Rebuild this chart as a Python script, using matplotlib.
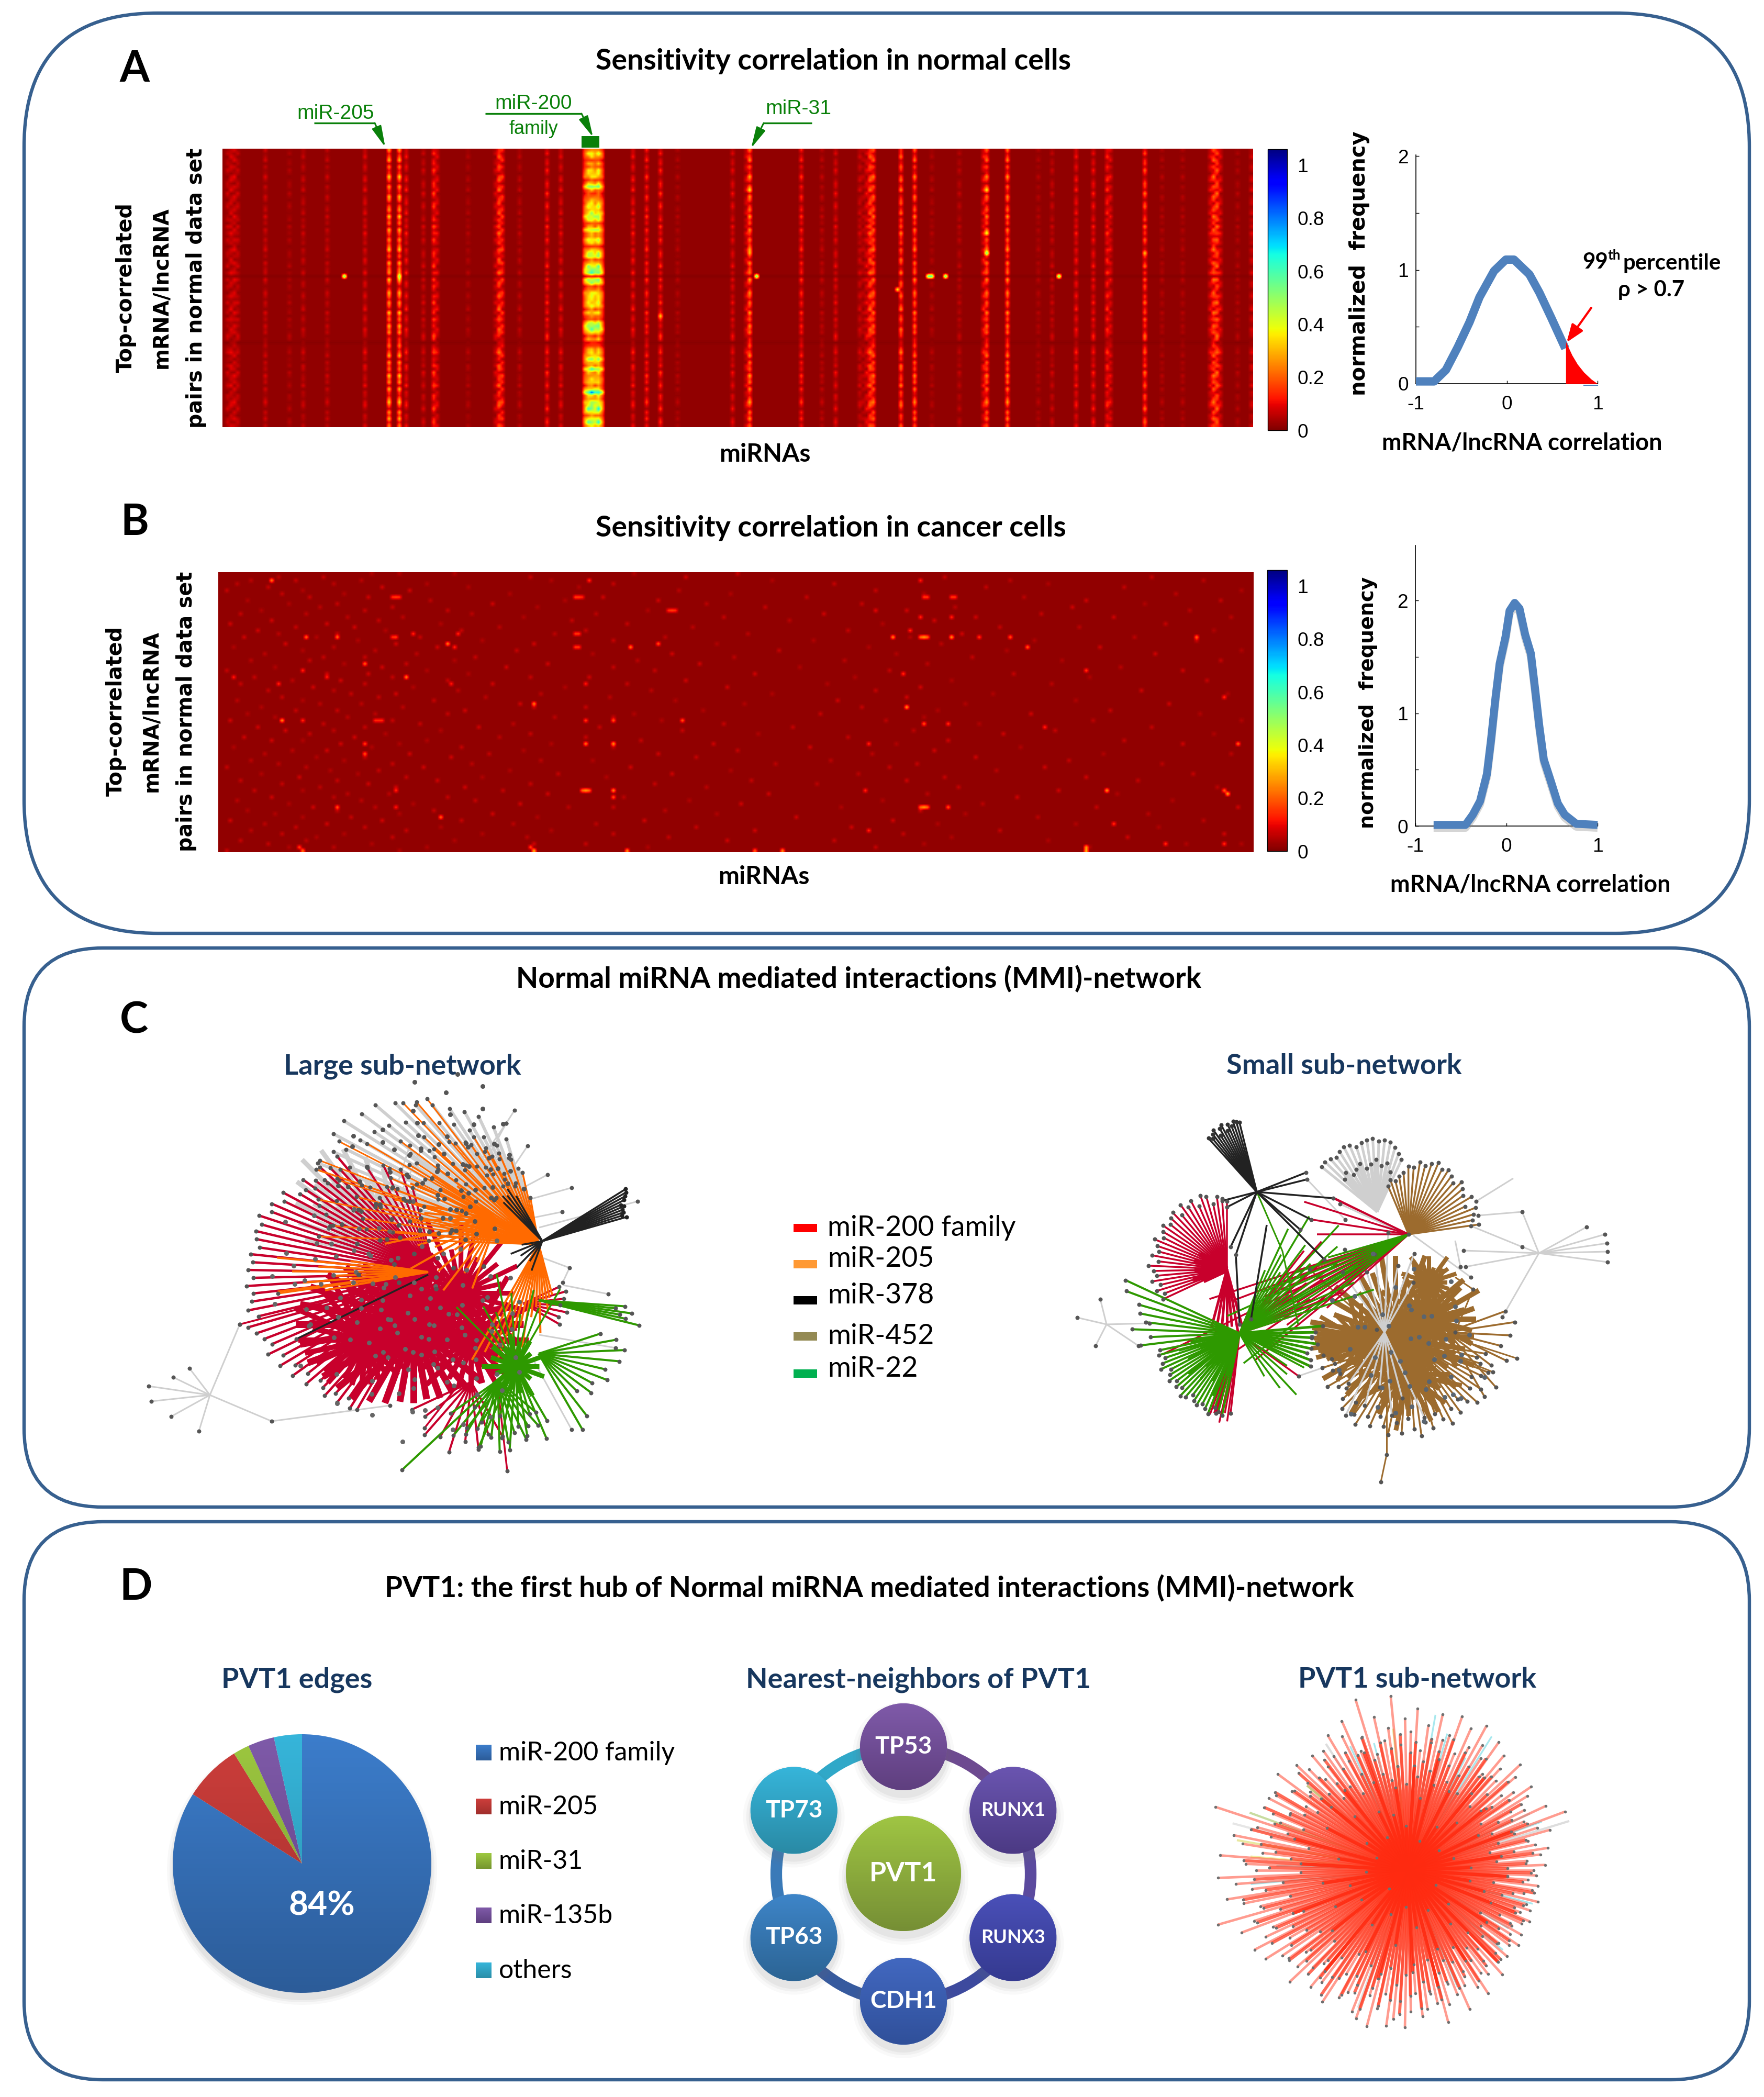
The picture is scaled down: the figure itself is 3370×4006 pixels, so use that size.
import numpy as np
import matplotlib
matplotlib.use("Agg")
import matplotlib.pyplot as plt
import matplotlib.patheffects as pe
from matplotlib.collections import LineCollection
from matplotlib.colors import to_rgb
from matplotlib.patches import FancyBboxPatch, Circle, Ellipse, Arc, Rectangle

plt.rcParams['font.family'] = ['Lato', 'DejaVu Sans']

W, H = 3370, 4006

# heatmap A: columns holding a visible stripe, and their typical level
A_COLS = [1, 2, 3, 4, 12, 19, 23, 30, 41, 48, 51, 53, 58, 61, 62, 71, 79, 80, 81, 86, 94, 98,
          119, 123, 127, 132, 148, 152, 153, 168, 174, 178, 185, 186, 187, 188, 189, 197, 201,
          206, 214, 221, 222, 228, 237, 241, 248, 253, 257, 258, 268, 273, 279, 287, 288, 289,
          290, 295, 299]
A_LEVELS = [.07, .09, .09, .07, .08, .05, .07, .07, .10, .30, .30, .12, .08, .16, .10, .05, .08, .20, .15,
            .06, .13, .10, .12, .14, .14, .05, .10, .10, .25, .14, .06, .10, .08, .06, .10, .20, .20,
            .22, .22, .05, .06, .12, .22, .24, .05, .07, .12, .12, .14, .10, .20, .05, .05, .10, .20,
            .20, .10, .05, .08]
A_PATTERN_1 = [7, 3, 5, 8, 2, 6, 3, 4, 9, 5, 2, 7, 4, 3, 8, 6, 2, 5, 7, 3, 9, 4, 6, 2, 8, 5, 3, 7, 4, 6, 9, 3, 5, 2,
               8, 4, 6, 7, 3, 9, 5, 2, 4, 8, 6, 3, 7, 5, 2, 9, 4, 6, 3, 8, 5, 7, 2, 4, 9, 6, 3, 5, 8, 2, 7, 4, 6, 3,
               9, 5, 7, 2, 8, 4, 3, 6, 9, 5, 2, 7, 4, 8, 3, 6]
A_PATTERN_2 = [4, 7, 2, 5, 6, 3, 8, 5, 2, 4, 7, 6, 3, 9, 5, 2, 6, 8, 4, 3, 5, 7, 2, 9, 4, 6, 3, 8, 5, 2, 4, 7, 6, 3,
               5, 9, 2, 6, 4, 8, 3, 7, 5, 2, 6, 4, 9, 3, 5, 7, 2, 8, 4, 6, 3, 5, 9, 7, 2, 4, 6, 8, 3, 5, 4, 7, 2, 9,
               6, 3, 5, 8, 4, 2, 7, 6, 3, 5, 9, 4, 2, 6, 8, 5]
A_PATTERN_3 = [5, 5, 8, 3, 4, 7, 5, 2, 6, 8, 3, 5, 9, 2, 4, 6, 7, 3, 5, 8, 2, 6, 4, 7, 3, 9, 5, 4, 6, 2, 7, 5, 3, 8,
               6, 2, 4, 9, 5, 3, 7, 6, 2, 5, 8, 4, 3, 6, 9, 2, 5, 7, 4, 3, 8, 6, 5, 2, 7, 3, 6, 9, 4, 5, 2, 8, 7, 3,
               5, 6, 4, 9, 2, 6, 5, 3, 7, 8, 4, 2, 6, 5, 3, 7]
A_BAND_COLS = [105, 106, 107, 108, 109, 110]
A_BAND_SHADE = [.6, .9, 1, .85, 1, .6]
A_BAND_ROWS = [.30, .45, .35, .20, .35, .25, .40, .45, .40, .20, .40, .60, .30, .20, .25, .35, .40, .45, .40, .50, .55,
               .45, .25, .30, .55, .30, .35, .45, .40, .20, .35, .50, .55, .25, .35, .55, .65, .60, .30, .55, .55, .20,
               .30, .45, .40, .45, .40, .45, .25, .40, .30, .20, .55, .60, .60, .40, .20, .35, .30, .20, .35, .35, .40,
               .60, .40, .30, .65, .35, .30, .40, .40, .25, .45, .90, .40, .35, .50, .50, .65, .50, .30, .45, .65, .40]
A_DARK_ROWS = [38, 58]
A_SPOT_ROWS = [38, 38, 38, 38, 38, 38, 38, 31, 31, 31, 12, 12, 25, 42, 50]
A_SPOT_COLS = [35, 155, 51, 205, 206, 210, 243, 222, 153, 268, 222, 153, 222, 196, 127]
A_SPOT_VALS = [.62, .62, .55, .62, .62, .62, .62, .60, .32, .34, .40, .38, .44, .38, .35]

# heatmap B: the brighter cells
B_ROWS = [2, 7, 7, 7, 7, 7, 7, 2, 11, 11, 11, 19, 19, 19, 19, 18, 18, 18, 18, 21, 22, 22, 21, 22, 22, 27, 29, 31, 31, 31, 33,
          33, 33, 39, 44, 44, 44, 44, 44, 44, 44, 44, 51, 51, 51, 54, 65, 65, 65, 65, 65, 67, 70, 70, 73, 82, 82, 83, 83, 83,
          2, 7, 7, 7, 7, 13, 13, 11, 17, 19, 19, 19, 19, 19, 19, 19, 19, 22, 29, 30, 37, 40, 45, 45, 46, 51, 51, 65, 65, 65, 66,
          70, 70, 70, 70, 77, 75, 82, 81, 83, 81, 83, 83]
B_COLS = [15, 50, 51, 52, 103, 104, 105, 107, 130, 131, 132, 25, 34, 50, 51, 56, 69, 103, 104, 66, 68, 119, 127, 103, 104, 42, 24, 4, 31,
          54, 17, 67, 106, 91, 18, 24, 45, 46, 47, 106, 114, 134, 106, 114, 42, 42, 51, 105, 106, 107, 114, 114, 34, 51, 64, 23, 90, 91, 24, 118,
          203, 204, 205, 212, 213, 203, 212, 190, 200, 195, 203, 204, 205, 212, 220, 229, 283, 234, 251, 198, 291, 199, 204, 211, 239, 188, 295,
          187, 257, 291, 292, 203, 204, 205, 211, 188, 259, 251, 291, 251, 274, 163, 155]
B_VALS = [.25, .15, .17, .15, .17, .17, .14, .16, .15, .17, .15, .22, .22, .15, .17, .15, .15, .16, .16, .25, .15, .24, .20, .16, .16, .22,
          .15, .14, .14, .25, .15, .14, .14, .25, .26, .15, .14, .14, .14, .17, .20, .20, .24, .28, .18, .20, .15, .22, .28, .22, .26, .20,
          .20, .14, .22, .18, .18, .30, .22, .25, .14, .16, .16, .16, .16, .15, .15, .10, .15, .26, .22, .28, .22, .28, .17, .20, .22, .22,
          .17, .16, .16, .28, .20, .16, .15, .15, .22, .15, .28, .22, .30, .22, .28, .22, .20, .15, .16, .28, .16, .30, .16, .25, .20]
# heatmap B: the faint cells, one list of columns per row
B_FAINT = [[44, 52, 68, 120, 150], [17, 30, 90, 135, 210, 270], [9, 22, 41, 96, 160, 229, 285], [5, 33, 60, 114, 178, 240],
           [14, 47, 72, 104, 222, 262], [2, 24, 55, 133, 190, 296], [18, 36, 84, 148, 204, 277], [26, 43, 111, 170, 233],
           [8, 61, 100, 127, 251, 290], [20, 34, 79, 141, 186, 268], [29, 50, 92, 158, 213, 247], [12, 42, 66, 124, 199, 281],
           [6, 25, 73, 109, 175, 238], [37, 53, 88, 146, 219, 259, 293], [15, 46, 102, 165, 207], [3, 31, 64, 118, 192, 274],
           [22, 39, 81, 137, 226, 249], [11, 48, 70, 106, 182, 288], [17, 34, 97, 153, 215], [7, 28, 58, 129, 200, 265],
           [40, 76, 114, 172, 236, 283], [19, 51, 91, 144, 209], [4, 33, 63, 103, 188, 255], [24, 45, 86, 162, 228, 296],
           [13, 57, 108, 131, 196, 271], [30, 42, 74, 149, 218], [9, 26, 68, 121, 181, 244, 290], [36, 54, 95, 139, 205],
           [16, 47, 83, 114, 168, 261], [2, 24, 60, 126, 194, 279], [31, 43, 72, 155, 230], [10, 50, 90, 107, 184, 252],
           [21, 35, 66, 135, 212, 286], [6, 42, 79, 118, 176, 241], [27, 56, 100, 147, 203], [14, 33, 69, 125, 190, 267],
           [38, 51, 93, 160, 224, 292], [18, 46, 77, 113, 199], [5, 24, 62, 132, 179, 248], [29, 41, 87, 152, 216, 275],
           [12, 53, 91, 106, 186], [22, 34, 71, 140, 208, 258], [8, 45, 66, 120, 174, 235, 284], [16, 37, 97, 114, 204],
           [3, 24, 50, 128, 193, 253, 296], [30, 58, 85, 146, 220], [11, 42, 75, 110, 166, 270], [19, 33, 64, 134, 201, 242],
           [26, 48, 90, 156, 227, 288], [7, 39, 81, 106, 182], [15, 24, 60, 122, 211, 262], [35, 52, 96, 143, 196, 279],
           [4, 44, 70, 114, 171, 232], [21, 31, 88, 150, 207], [13, 55, 78, 127, 189, 256, 293], [28, 42, 67, 138, 219],
           [9, 36, 93, 108, 177, 246], [17, 50, 73, 161, 202, 273], [2, 25, 59, 119, 194, 239], [32, 46, 84, 148, 225],
           [12, 40, 98, 131, 185, 282], [23, 54, 76, 112, 210, 251], [6, 34, 63, 154, 199, 266], [18, 43, 90, 126, 173],
           [29, 51, 71, 141, 214, 289], [10, 24, 82, 106, 187, 243], [37, 49, 95, 159, 205, 260], [15, 33, 66, 117, 231],
           [5, 41, 74, 136, 192, 276], [20, 56, 87, 151, 221], [27, 45, 101, 114, 180, 254, 295], [8, 34, 62, 129, 203],
           [16, 52, 79, 144, 216, 269], [24, 38, 92, 167, 237], [3, 47, 70, 123, 195, 285], [13, 31, 85, 109, 208, 248],
           [22, 42, 64, 138, 183, 272], [9, 54, 96, 155, 226], [18, 36, 76, 114, 198, 291], [28, 50, 89, 130, 212, 263],
           [6, 25, 68, 147, 178, 240], [14, 44, 91, 106, 204, 280, 296], [20, 33, 60, 124, 190, 252], [2, 24, 52, 91, 118, 163, 251]]

# correlation histograms
HIST_A_X = [-1, -.8, -.67, -.54, -.41, -.3, -.14, -.01, .08, .25, .36, .49, .645]
HIST_A_Y = [.02, .02, .12, .32, .54, .76, .99, 1.09, 1.09, .96, .80, .58, .31]
TAIL_A_X = [.65, .72, .78, .85, .93, 1]
TAIL_A_Y = [.37, .25, .17, .10, .04, 0]
HIST_B_X = [-.8, -.45, -.37, -.29, -.215, -.17, -.12, -.075, -.01, .034, .09, .143, .205, .268, .315, .36, .41, .486, .564, .64,
            .766, 1]
HIST_B_Y = [.01, .01, .10, .22, .46, .76, 1.14, 1.44, 1.68, 1.91, 1.98, 1.93, 1.70, 1.53, 1.21, .89, .59, .40, .20, .10, .02, .01]

# pie
PIE_NAMES = ["miR-200 family", "miR-205", "miR-31", "miR-135b", "others"]
PIE_VALUES = [84, 7.2, 2, 3.3, 3.5]
PIE_TOPS = ['#3c7dcb', '#cd3e3b', '#9dc840', '#7f5aa9', '#36b5da']
PIE_BOTTOMS = ['#2c5c99', '#a02f2c', '#76962f', '#5e3f7f', '#2a8ea8']

# legend of panel C
NET_NAMES = ["miR-200 family", "miR-205", "miR-378", "miR-452", "miR-22"]
NET_COLORS = ['#ff0000', '#ff9933', '#000000', '#948a54', '#00b050']

# ring of panel D
RING_NAMES = ["TP53", "RUNX1", "RUNX3", "CDH1", "TP63", "TP73"]
RING_ANGLES = [90, 30, -30, -90, -150, 150]
RING_TOPS = ['#7f5aa9', '#6a55b0', '#4a50b8', '#4268c0', '#3e85c8', '#36b5da']
RING_BOTTOMS = ['#5f3f7f', '#4c3a84', '#353a90', '#30509a', '#2c6494', '#2a8aa5']
RING_LINKS = ['#6d4a90', '#5b4a9e', '#3d4a9e', '#365a9e', '#3a7ab8', '#30a8c8']

# network colours
RED = '#c8002c'
ORANGE = '#ff6a00'
GREEN = '#2e9900'
BLACK = '#222222'
GREY = '#cfcfcf'
BROWN = '#9c6b2e'

# large sub-network: spoke lengths read around each hub
L_GREY_1 = [150, 210, 175, 240, 205, 270, 230, 290, 255, 310, 280, 335, 300, 355, 320, 385, 345, 410, 365, 420, 380, 440, 395,
            445, 410, 430, 390, 450, 405, 420, 440, 395, 425, 410]
L_GREY_2 = [120, 180, 140, 205, 160, 240, 190, 260, 150, 225, 275, 200, 300, 170, 250, 320, 210, 290, 340, 235, 310, 360, 270, 330]
L_GREY_3 = [120, 170, 140, 200, 160, 230, 180, 250, 200, 260, 210, 240, 190, 220, 170, 200, 150, 180]
L_ORANGE_1 = [190, 240, 210, 350, 358, 374, 300, 260, 330, 280, 380, 429, 310, 448, 400, 360, 430, 340, 395, 420]
L_ORANGE_2 = [90, 140, 110, 170, 125, 190, 150, 210, 130, 230, 165, 250, 120, 200, 270, 180, 240, 145, 290, 215, 260, 160, 300,
              230, 190, 320, 250, 170, 280, 210]
L_ORANGE_3 = [255, 230, 210, 240, 190, 160, 200, 140, 120, 170, 110, 130, 105, 100]
L_ORANGE_4 = [150, 290, 210, 260, 180, 240, 290, 200]
L_ORANGE_5 = [100, 150, 120, 180, 90, 200, 140, 170, 110, 220, 160, 130, 190, 100, 150, 80, 170, 120, 90, 140]
L_RED_1 = [292, 270, 285, 300, 277, 290, 310, 295, 300, 330, 320, 340, 335, 355, 345, 352, 348, 340, 355, 350, 358, 348, 362,
           350, 355, 365, 348, 372, 360, 350, 340, 355, 330, 345, 320, 335, 310, 325, 300, 306, 315, 298, 310, 290, 305, 300]
L_RED_2 = [210, 190, 170, 150, 140, 130, 120, 120, 110, 120, 125, 130, 140, 150, 170, 190, 210, 220, 225, 220, 215, 200, 190,
           185, 170, 160, 150, 150, 145, 150, 150, 160, 170, 185, 200, 205]
L_RED_3 = [110, 90, 130, 100, 140, 85, 120, 140, 95, 125, 105, 130, 115, 90, 105, 120, 85, 95, 100, 85, 95, 105, 90, 105]
L_RED_4 = [125, 110, 135, 120, 140, 115, 130, 105, 120]
L_RED_5 = [80, 72, 85, 70, 78, 84, 75]
L_RED_6 = [130, 160, 120, 150, 110, 135, 140, 100, 130, 125, 140, 135, 115, 150, 105, 130, 120, 105, 100, 110, 85, 90, 80, 85,
           80, 75, 90, 100, 120, 110]
L_RED_7 = [100, 80, 120, 90, 140, 75, 110, 130, 85, 150, 95, 125, 70, 115, 145, 90, 105, 135, 80, 120, 150, 100, 130, 75, 110, 140,
           90, 125]
L_RED_8 = [170, 210, 150, 230, 190, 240, 180, 220]
L_GREEN_1 = [198, 170, 157, 180, 148, 165]
L_GREEN_2 = [167, 150, 102, 125, 116, 140, 130, 155, 164, 150, 124]
L_GREEN_3 = [110, 251, 135, 120, 100, 130, 110, 136, 120, 105, 125, 105, 115, 95]
L_GREEN_4 = [45, 60, 38, 55, 48, 62, 42, 58, 50, 65, 40, 55, 60, 45, 52, 65, 38, 58]
L_GREEN_5 = [170, 120, 150, 100, 140, 180, 110, 130, 90, 160]
L_GREEN_6 = [110, 150, 125, 170, 100, 140, 160, 115, 135, 95, 150, 120]
L_BLACK_1 = [168, 160, 165, 164, 170, 165, 175, 180, 185, 188]
L_BLACK_2 = [100, 120, 110, 115, 105]
L_BLACK_3 = [40, 65, 50, 70, 45, 60]
L_DOTS_RED = [30, 190, 85, 140, 205, 60, 120, 225, 40, 170, 100, 215, 70, 150, 235, 55, 130, 195, 25, 160, 90, 220, 75, 180,
              110, 240, 45, 145, 200, 65, 125, 230, 35, 175, 95, 210, 80, 155, 190, 50, 135, 225, 105, 165, 60, 215, 85, 140,
              230, 40, 120, 185, 70, 205, 100, 150]
L_DOTS_RED_2 = [60, 130, 95, 160, 40, 115, 150, 75, 140, 50, 165, 105, 85, 125, 35, 155, 70, 135, 100, 45, 145, 120, 65, 160, 90,
                30, 110, 150, 55, 130, 80, 165, 40, 120, 95, 145, 70, 155, 60, 105]
L_DOTS_LEFT = [40, 110, 75, 130, 55, 95, 125, 30, 85, 115, 65, 135, 45, 100, 80, 120, 60, 130, 35, 90, 110, 70, 125, 50, 105, 85,
               135, 40, 75, 115]
L_DOTS_TOP = [110, 240, 180, 320, 150, 280, 210, 360, 130, 260, 190, 340, 170, 300, 230, 390, 140, 270, 200, 350, 120, 250, 310,
              160, 290, 220, 370, 180, 330, 240, 410, 150, 280, 200, 360, 170, 300, 130, 260, 380, 190, 320, 230, 350, 160, 270,
              210, 400, 140, 290]
L_DOTS_TOP_2 = [60, 140, 100, 170, 45, 120, 155, 80, 130, 50, 165, 105, 70, 145, 90, 175, 35, 125, 160, 75, 110, 150, 55, 135, 95,
                170, 65, 115, 145, 85, 40, 155, 100, 130, 60, 165, 75, 120, 150, 90]

# large sub-network: single edges (x0, y0, x1, y1)
L_GREY_EDGES = [(401, 2665, 362, 2614), (401, 2665, 331, 2631), (401, 2665, 284, 2648), (401, 2665, 289, 2677),
                (401, 2665, 327, 2706), (401, 2665, 380, 2734), (401, 2665, 458, 2530), (401, 2665, 519, 2715),
                (519, 2715, 745, 2685), (885, 2264, 967, 2146), (967, 2146, 983, 2121), (900, 2270, 967, 2146),
                (950, 2275, 1008, 2189), (960, 2290, 1046, 2244), (980, 2300, 1092, 2269), (1000, 2330, 1074, 2315),
                (1029, 2400, 1088, 2422), (1088, 2422, 1075, 2450), (1075, 2455, 1162, 2472), (1020, 2600, 1092, 2731),
                (1030, 2550, 1176, 2575), (1030, 2345, 1218, 2295), (760, 2260, 783, 2188), (770, 2270, 804, 2198),
                (790, 2280, 836, 2226), (870, 2270, 890, 2226), (895, 2280, 928, 2230)]
L_RED_EDGES = [(950, 2640, 969, 2810), (880, 2640, 811, 2728), (832, 2433, 458, 2530)]
L_BLACK_EDGES = [(818, 2435, 566, 2558)]
L_ORANGE_EDGES = [(1029, 2377, 604, 2234), (818, 2430, 531, 2471)]

# small sub-network: spoke lengths read around each hub
S_BLACK_1 = [137, 140, 142, 135, 141, 130, 145, 140, 128, 144, 138, 132, 138]
S_GREY_1 = [110, 118, 128, 135, 138, 135, 140, 138, 135, 130, 138, 140, 136, 130, 135, 138, 136]
S_GREY_2 = [80, 95, 88, 100, 92, 85, 98, 90, 84, 96, 88]
S_BROWN_1 = [135, 125, 130, 138, 120, 140, 128, 135, 142, 130, 138, 145, 140, 148, 142, 135, 140, 128, 130, 118, 112, 105, 110, 100]
S_RED_1 = [130, 135, 140, 128, 145, 150, 132, 148, 140, 152, 135, 150, 145, 138, 148, 142, 135, 150, 140, 134, 146, 132, 150, 140,
           135, 145, 130, 140, 128, 135]
S_RED_2 = [60, 52, 65, 48, 62, 55, 68, 50]
S_RED_3 = [115, 125, 105, 128, 110, 130, 120]
S_RED_4 = [165, 160, 150, 175, 155, 170]
S_RED_5 = [170, 210, 150, 225, 190, 160, 215, 175, 235, 200]
S_RED_6 = [400, 360, 300, 523, 340, 250, 440, 290, 380, 210]
S_RED_7 = [160, 209, 190, 175]
S_GREEN_1 = [155, 160, 150, 158, 165, 148, 155, 162, 150, 158, 152, 165, 160, 148, 155, 160, 152, 158, 165, 150, 155, 160]
S_GREEN_2 = [95, 120, 80, 110, 70, 125, 90, 115, 75, 105, 130, 85, 120]
S_GREEN_3 = [240, 231, 200, 194, 180, 205, 170, 190]
S_GREEN_4 = [150, 145, 135, 140, 150, 138, 145, 160]
S_GREEN_5 = [270, 180, 240, 130, 260, 160, 230, 120, 250, 190, 280, 150, 210, 140, 260, 170, 220, 130]
S_GREEN_6 = [160, 230, 300, 380, 190, 340, 260, 150, 400]
S_GREEN_7 = [95, 130, 160, 120, 110, 140]
S_BROWN_2 = [150, 120, 160, 135, 170, 115, 145, 165, 125, 155, 175, 130, 160, 110, 150, 140, 125, 165, 105, 150, 130, 160, 120, 145,
             170, 110, 135, 155, 140, 120, 165, 130, 150, 115, 160, 135]
S_BROWN_3 = [90, 70, 110, 85, 60, 100, 75, 115, 95, 65, 105, 80, 120, 88, 70, 100, 60, 110, 90, 78, 105, 68, 95, 85]
S_BROWN_4 = [135, 125, 130, 128, 136, 120, 130]
S_BROWN_5 = [165, 150, 172, 155, 145, 178, 160, 150, 168, 182, 155, 175, 190, 165, 180, 155, 172, 185, 160, 178, 150, 170, 185, 160,
             175, 150, 165, 180, 155, 170, 148, 162, 178, 150, 168, 140, 155, 165, 145, 135, 150]
S_BROWN_6 = [142, 140, 105, 125, 105, 120, 130, 118]
S_BROWN_7 = [80, 55, 100, 70, 110, 60, 90, 105, 50, 95, 75, 110, 65, 100, 85, 55, 105, 70, 95, 60, 110, 80, 50, 100, 75, 90, 65, 105]
S_BROWN_8 = [60, 85, 45, 75, 90, 50, 70, 85, 40, 65, 90, 55, 80, 45, 75, 60, 90, 50, 70, 85, 55, 65, 80, 45]
S_BROWN_9 = [35, 55, 45, 60, 30, 50, 40, 60, 35, 55, 45, 30, 60, 40, 50, 35, 55, 45, 60, 40]
S_GREY_3 = [110, 160, 130, 190, 150, 120, 175, 140]
S_GREY_4 = [120, 175, 145, 105, 160, 130, 180]
S_DOTS_BROWN = [45, 120, 80, 150, 60, 135, 95, 165, 50, 110, 140, 75, 160, 90, 125, 55, 170, 100, 145, 70, 115, 155, 85, 130]
S_DOTS_BROWN_2 = [70, 40, 100, 60, 120, 35, 85, 110, 50, 95, 130, 65, 45, 105, 75, 125, 55, 90, 115, 40, 80, 100, 60, 120]

S_GREY_EDGES = [(2940, 2394, 3031, 2344), (2940, 2394, 3066, 2358), (2940, 2394, 3070, 2375), (2940, 2394, 3071, 2391),
                (2940, 2394, 3071, 2411), (2940, 2394, 2796, 2389), (2940, 2394, 2800, 2420), (2940, 2394, 2908, 2382),
                (2908, 2382, 2810, 2342), (2940, 2394, 2870, 2516), (2940, 2394, 2908, 2315), (2908, 2315, 2824, 2322),
                (2891, 2251, 2820, 2295), (2114, 2530, 2102, 2482), (2114, 2530, 2058, 2517), (2114, 2530, 2093, 2571),
                (2114, 2530, 2175, 2571), (2114, 2530, 2196, 2528), (2497, 2253, 2570, 2330), (2480, 2629, 2550, 2605),
                (2780, 2370, 2790, 2420), (2700, 2360, 2810, 2440), (2690, 2360, 2560, 2300)]
S_BLACK_EDGES = [(2401, 2277, 2495, 2240), (2401, 2277, 2497, 2253), (2401, 2277, 2547, 2289), (2401, 2277, 2505, 2330),
                 (2401, 2277, 2484, 2349), (2401, 2277, 2530, 2406), (2401, 2277, 2335, 2294), (2401, 2277, 2344, 2306),
                 (2401, 2277, 2351, 2382), (2401, 2277, 2361, 2397), (2361, 2397, 2368, 2530), (2420, 2340, 2390, 2520)]
S_RED_EDGES = [(2547, 2289, 2691, 2358), (2368, 2547, 2323, 2700), (2368, 2547, 2351, 2700), (2385, 2560, 2481, 2629)]
S_GREEN_EDGES = [(2401, 2277, 2450, 2390), (2450, 2390, 2480, 2530)]
S_BROWN_EDGES = [(2649, 2680, 2649, 2779), (2649, 2779, 2638, 2831), (2691, 2358, 2502, 2425), (2502, 2425, 2630, 2540),
                 (2780, 2440, 2814, 2463), (2814, 2463, 2780, 2545), (2790, 2560, 2898, 2595), (2800, 2600, 2852, 2621)]

# PVT1 sub-network: spoke lengths going round from 0 degrees
P_LENGTHS = [240, 262, 228, 255, 270, 248, 236, 282, 260, 320, 240, 290, 250, 226, 268, 284, 250, 228, 272, 294, 240, 262, 285, 232,
             300, 255, 278, 314, 262, 296, 240, 312, 270, 258, 305, 248, 280, 230, 310, 265, 290, 240, 335, 275, 252, 300, 230, 341,
             268, 245, 312, 285, 238, 300, 260, 280, 250, 286, 235, 270, 293, 255, 240, 310, 268, 230, 290, 300, 250, 280, 260, 387,
             300, 270, 340, 320, 280, 360, 310, 290, 363, 330, 300, 350, 320, 290, 378, 310, 340, 280, 300, 330, 260, 320, 290, 283,
             250, 280, 310, 260, 240, 290, 270, 250, 300, 230, 277, 260, 240, 290, 300, 250, 308, 270, 240, 300, 285, 250, 300, 270,
             235, 280, 268, 240, 260, 300, 268, 230, 255, 290, 245, 220, 260, 280, 240, 250, 225, 268, 245, 230, 250, 222, 240, 255,
             230, 248, 220, 240, 252, 228, 245, 235, 255, 225, 240, 250, 230, 245]
P_MID = [190, 225, 170, 240, 205, 160, 232, 180, 215, 245, 175, 220, 195, 250, 165, 235, 200, 180, 255, 210, 170, 240, 190, 225, 260,
         175, 230, 205, 250, 185, 215, 265, 170, 235, 195, 255, 210, 180, 245, 225, 165, 260, 200, 235, 175, 250, 190, 220, 270, 180,
         240, 205, 255, 170, 230, 195, 265, 215, 185, 245, 210, 280, 190, 235, 265, 205, 295, 225, 250, 300, 215, 270, 240, 310, 195,
         285, 255, 225, 315, 265, 205, 295, 240, 275, 320, 230, 285, 255, 305, 215, 275, 245, 295, 225, 265, 205, 285, 240, 260, 195,
         275, 230, 265, 210, 290, 245, 185, 270, 225, 255, 195, 280, 235, 205, 265, 190, 250, 220, 275, 200, 240, 180, 265, 215, 235,
         175, 255, 205, 225, 185, 245, 195, 230, 170, 250, 210, 185, 235, 200, 165, 245, 190, 220, 175, 235, 205, 160, 225, 195, 240,
         170, 215, 230, 185, 205, 245, 165, 220, 190, 235]
P_INNER = [120, 180, 90, 210, 150, 70, 190, 130, 230, 100, 170, 60, 220, 140, 200, 85, 160, 110, 240, 125, 75, 195, 145, 215, 95, 175,
           65, 225, 135, 205, 80, 165, 115, 235, 155, 105, 185, 50, 250, 125, 175, 90, 215, 145, 70, 195, 110, 230, 160, 85, 205, 130,
           245, 100, 180, 60, 220, 150, 120, 190]
P_CYAN_ANGLES = [80, 74, 58, 63, 115, 105, 178, 185, 20, 25, 330, 320, 285, 293, 345]
P_CYAN_LENGTHS = [300, 270, 300, 240, 260, 250, 250, 300, 270, 255, 220, 235, 250, 240, 245]
P_PALE_ANGLES = [123, 170, 165, 160, 175, 17, 250, 96, 140]
P_PALE_LENGTHS = [286, 330, 345, 320, 300, 320, 277, 270, 250]
P_PALE_COLORS = ['#dddddd', '#e8e8a0', '#e6e6e6', '#c8dca0', '#f0f0a0', '#dddddd', '#dddddd', '#e8e8a0', '#c8c880']

fig = plt.figure(figsize=(W / 100, H / 100), dpi=100, facecolor='white')

page = fig.add_axes([0, 0, 1, 1])
page.set_xlim(0, W)
page.set_ylim(H, 0)
page.set_autoscale_on(False)
page.axis('off')


def sub_axes(x0, y0, x1, y1):
    ax = fig.add_axes([x0 / W, 1 - y1 / H, (x1 - x0) / W, (y1 - y0) / H])
    ax.patch.set_visible(False)
    return ax


def txt(x, y, s, px, **kw):
    kw.setdefault('ha', 'center')
    kw.setdefault('va', 'center')
    return page.text(x, y, s, fontsize=px * .72, **kw)


def gradient_fill(ax, patch, box, top, bottom):
    ramp = np.linspace(0, 1, 64)[:, None, None]
    rgb = (1 - ramp) * np.array(to_rgb(top)) + ramp * np.array(to_rgb(bottom))
    im = ax.imshow(rgb, extent=box, aspect='auto', zorder=patch.get_zorder() + .1)
    im.set_clip_path(patch)


def fan(hub, a0, a1, lengths, color, lw, dots=True, lines=True, dot_color='#555555', dot_px=8, z=3):
    ang = np.radians(np.linspace(a0, a1, len(lengths)))
    hx = hub[0] + np.array(lengths) * np.cos(ang)
    hy = hub[1] - np.array(lengths) * np.sin(ang)
    if lines:
        segs = [[hub, (x, y)] for x, y in zip(hx, hy)]
        page.add_collection(LineCollection(segs, colors=color, linewidths=lw * .72, zorder=z))
    if dots:
        page.scatter(hx, hy, s=(dot_px * .72) ** 2, c=dot_color, linewidths=0, zorder=z + 5)


def edges(items, color, lw, dot_px=8, z=3):
    segs = [[(e[0], e[1]), (e[2], e[3])] for e in items]
    page.add_collection(LineCollection(segs, colors=color, linewidths=lw * .72, zorder=z))
    page.scatter([e[2] for e in items], [e[3] for e in items], s=(dot_px * .72) ** 2, c='#555555', linewidths=0, zorder=z + 5)


# rounded panels
for x0, y0, x1, y1, r in [(46, 25, 3342, 1783, 255), (46, 1811, 3342, 2879, 150), (46, 2907, 3342, 3973, 150)]:
    page.add_patch(FancyBboxPatch((x0, y0), x1 - x0, y1 - y0, boxstyle="round,pad=0,rounding_size=%d" % r,
                                  fc='white', ec='#37608f', lw=4.6, zorder=1))

for x, y, s in [(257, 132, 'A'), (257, 998, 'B'), (256, 1950, 'C'), (260, 3032, 'D')]:
    txt(x, y, s, 82, weight='bold')

txt(1592, 117, "Sensitivity correlation in normal cells", 55.5, weight='bold')
txt(1587, 1009, "Sensitivity correlation in cancer cells", 55.5, weight='bold')
txt(1640, 1870, "Normal miRNA mediated interactions (MMI)-network", 55, weight='bold')
txt(1661, 3034, "PVT1: the first hub of Normal miRNA mediated interactions (MMI)-network", 55, weight='bold')

for x, y, s in [(769, 2037, "Large sub-network"), (2568, 2037, "Small sub-network"), (567, 3209, "PVT1 edges"),
                (1755, 3209, "Nearest-neighbors of PVT1"), (2708, 3209, "PVT1 sub-network")]:
    txt(x, y, s, 54, weight='bold', color='#17375e')

# heatmaps
rows = len(A_BAND_ROWS)
cols = 300
heat_a = np.full((rows, cols), .02)
patterns = [A_PATTERN_1, A_PATTERN_2, A_PATTERN_3]
for c, level in zip(A_COLS, A_LEVELS):
    heat_a[:, c] = level * np.array(patterns[c % 3][:rows]) / 7.5
for i, c in enumerate(A_BAND_COLS):
    heat_a[:, c] = np.array(A_BAND_ROWS) * A_BAND_SHADE[i] * (.62 + np.array(patterns[i % 3][:rows]) / 20)
for r in A_DARK_ROWS:
    heat_a[r, :] *= .45
heat_a[A_SPOT_ROWS, A_SPOT_COLS] = A_SPOT_VALS

heat_b = np.full((rows, cols), .02)
for r, row_cols in enumerate(B_FAINT):
    heat_b[r, row_cols] = .05 + .01 * (np.array(row_cols) % 4)
heat_b[B_ROWS, B_COLS] = B_VALS

ax_a = sub_axes(425, 284, 2394, 816)
im_a = ax_a.imshow(heat_a, cmap='jet_r', vmin=0, vmax=1.06, aspect='auto', interpolation='bilinear')
ax_a.axis('off')
ax_b = sub_axes(417, 1093, 2394, 1628)
im_b = ax_b.imshow(heat_b, cmap='jet_r', vmin=0, vmax=1.06, aspect='auto', interpolation='bilinear')
ax_b.axis('off')

for im, box in [(im_a, (2422, 285, 2459, 822)), (im_b, (2421, 1089, 2459, 1626))]:
    cax = sub_axes(*box)
    cb = fig.colorbar(im, cax=cax, ticks=[0, .2, .4, .6, .8, 1])
    cb.ax.set_yticklabels(['0', '0.2', '0.4', '0.6', '0.8', '1'], family='Liberation Sans', fontsize=37 * .72)
    cb.ax.tick_params(length=0, pad=14)
    cb.outline.set_linewidth(1)

txt(1461, 868, "miRNAs", 48, weight='bold')
txt(1459, 1675, "miRNAs", 48, weight='bold')

for x, y, lines in [(241, 550, ["Top-correlated", "mRNA/lncRNA", "pairs in normal data set"]),
                    (222, 1359, ["Top-correlated", "mRNA/lncRNA", "pairs in normal data set"])]:
    for i, s in enumerate(lines):
        txt(x + i * 67, y, s, 39.5, rotation=90, weight='bold', family='DejaVu Sans')

# green call-outs
GREEN_NOTE = '#0a800a'
txt(641, 217, "miR-205", 39, color=GREEN_NOTE, family='Liberation Sans')
txt(1019, 198, "miR-200", 39, color=GREEN_NOTE, family='Liberation Sans')
txt(1019, 246, "family", 36, color=GREEN_NOTE, family='Liberation Sans')
txt(1525, 208, "miR-31", 39, color=GREEN_NOTE, family='Liberation Sans')
for line, tip in [([(600, 235), (716, 235)], (736, 281)), ([(927, 217), (1111, 217)], (1133, 262)),
                  ([(1551, 235), (1459, 235)], (1435, 283))]:
    page.plot(*zip(*line), color=GREEN_NOTE, lw=2.4, solid_capstyle='butt', zorder=4)
    page.annotate('', xy=tip, xytext=line[1],
                  arrowprops=dict(arrowstyle='-|>,head_width=.22,head_length=.95', color=GREEN_NOTE, lw=2.2,
                                  shrinkA=0, shrinkB=0, mutation_scale=26), zorder=4)
page.add_patch(Rectangle((1111, 260), 34, 22, fc=GREEN_NOTE, ec='none', zorder=4))


# histograms
def hist_axes(box, y_top):
    ax = sub_axes(*box)
    ax.set_xlim(-1, 1)
    ax.set_ylim(0, y_top)
    for side in ['top', 'right']:
        ax.spines[side].set_visible(False)
    for side in ['left', 'bottom']:
        ax.spines[side].set_linewidth(1.2)
    ax.set_xticks([-1, 0, 1])
    ax.set_xticklabels(['-1', '0', '1'])
    ax.set_yticks([0, 1, 2])
    ax.set_yticks([.5, 1.5], minor=True)
    ax.tick_params(axis='both', which='both', direction='in', length=4, width=1)
    ax.tick_params(axis='x', labelsize=37 * .72, pad=16)
    ax.tick_params(axis='y', labelsize=37 * .72, pad=10)
    for t in ax.get_xticklabels() + ax.get_yticklabels():
        t.set_family('Liberation Sans')
    return ax


ax_ha = hist_axes((2705, 296, 3052, 733), 2.01)
ax_ha.plot(HIST_A_X, HIST_A_Y, color='#4f81bd', lw=11.5, solid_capstyle='butt', solid_joinstyle='round', clip_on=False, zorder=3)
ax_ha.fill_between(TAIL_A_X, 0, TAIL_A_Y, color='#ff0000', lw=0, zorder=4)
ax_ha.plot([.85, 1], [-.015, -.015], color='#4f81bd', lw=1.5, clip_on=False)

ax_hb = hist_axes((2704, 1042, 3052, 1578), 2.49)
shadow = [pe.SimpleLineShadow(offset=(0, -4), shadow_color='#888888', alpha=.35), pe.Normal()]
ax_hb.plot(HIST_B_X, HIST_B_Y, color='#4f81bd', lw=11, solid_capstyle='butt', solid_joinstyle='round', clip_on=False,
           path_effects=shadow, zorder=3)

txt(2597, 503, "normalized  frequency", 40, rotation=90, weight='bold', family='DejaVu Sans')
txt(2614, 1342, "normalized  frequency", 38, rotation=90, weight='bold', family='DejaVu Sans')
txt(2908, 846, "mRNA/lncRNA correlation", 45, weight='bold')
txt(2924, 1691, "mRNA/lncRNA correlation", 45, weight='bold')
txt(3048, 501, "99", 42, weight='bold')
txt(3084, 488, "th", 26, weight='bold')
txt(3194, 503, "percentile", 42, weight='bold')
txt(3155, 554, "ρ > 0.7", 42, weight='bold')
page.annotate('', xy=(2993, 654), xytext=(3040, 588),
              arrowprops=dict(arrowstyle='-|>,head_width=.3,head_length=.8', color='#ff0000', lw=3, shrinkA=0, shrinkB=0,
                              mutation_scale=26), zorder=4)

# legend of panel C
for y_bar, y_txt, name, color in zip([2346, 2415, 2484, 2553, 2624], [2345, 2405, 2475, 2552, 2614], NET_NAMES, NET_COLORS):
    page.add_patch(Rectangle((1516, y_bar - 8), 45, 16, fc=color, ec='none', zorder=3))
    txt(1581, y_txt, name, 53.5, ha='left')

# large sub-network
hub_l = (1029, 2377)
fan(hub_l, 105, 172, L_GREY_1, GREY, 6)
fan(hub_l, 112, 175, L_GREY_2, GREY, 6)
fan((760, 2400), 95, 170, L_GREY_3, GREY, 9, dots=False)
edges(L_GREY_EDGES, GREY, 3)
fan((790, 2530), 0, 350, L_RED_2, RED, 13, dots=False, z=4)
fan((900, 2560), 0, 345, L_RED_3, RED, 10, dots=False, z=4)
fan((700, 2560), 0, 348, L_RED_6, RED, 10, dots=False, z=4)
fan((880, 2470), 0, 345, L_RED_7, RED, 9, dots=False, z=4)
fan((832, 2433), 130, 240, L_RED_1, RED, 4.5, z=4)
fan((832, 2433), 105, 130, L_RED_8, RED, 4, z=4)
fan((900, 2640), 205, 300, L_RED_4, RED, 4, z=4)
fan((1000, 2490), -30, 25, L_RED_5, RED, 4, z=4)
edges(L_RED_EDGES, RED, 3.5, z=4)
fan(hub_l, 118, 178, L_ORANGE_1, ORANGE, 3, z=5)
fan(hub_l, 100, 178, L_ORANGE_2, ORANGE, 3.5, z=5)
fan((950, 2330), 140, 250, L_ORANGE_5, ORANGE, 4, dots=False, z=5)
fan(hub_l, 240, 285, L_ORANGE_3, ORANGE, 4, dots=False, z=5)
fan((818, 2430), 172, 190, L_ORANGE_4, ORANGE, 4, dots=False, z=5)
edges(L_ORANGE_EDGES, ORANGE, 3.5, z=5)
fan((1029, 2484), -14, -4, L_GREEN_1, GREEN, 4, z=6)
fan((1029, 2586), -60, 18, L_GREEN_2, GREEN, 4, z=6)
fan((951, 2637), 215, 320, L_GREEN_3, GREEN, 4, z=6)
fan((985, 2610), 0, 340, L_GREEN_4, GREEN, 9, dots=False, z=6)
fan((985, 2610), 60, 135, L_GREEN_5, GREEN, 3.5, dots=False, z=6)
fan((985, 2610), 225, 300, L_GREEN_6, GREEN, 4, z=6)
fan((1036, 2371), 16, 32, L_BLACK_1, BLACK, 3.5, dot_color='#222222', z=6)
fan((1036, 2371), 120, 135, L_BLACK_2, BLACK, 3.5, dots=False, z=6)
fan((1036, 2371), 190, 250, L_BLACK_3, BLACK, 3.5, dots=False, z=6)
edges(L_BLACK_EDGES, BLACK, 3.5, z=6)
fan((790, 2530), 0, 355, L_DOTS_RED, RED, 1, lines=False, dot_color='#666666', dot_px=9, z=8)
fan((850, 2560), 0, 355, L_DOTS_RED_2, RED, 1, lines=False, dot_color='#666666', dot_px=9, z=8)
fan((640, 2430), 0, 355, L_DOTS_LEFT, RED, 1, lines=False, dot_color='#666666', dot_px=9, z=8)
fan(hub_l, 105, 178, L_DOTS_TOP, GREY, 1, lines=False, dot_color='#555555', dot_px=9, z=8)
fan((800, 2310), 0, 355, L_DOTS_TOP_2, GREY, 1, lines=False, dot_color='#555555', dot_px=9, z=8)

# small sub-network
hub_s_brown = (2691, 2358)
hub_s_red = (2344, 2425)
hub_s_green = (2368, 2547)
fan((2631, 2315), 65, 141, S_GREY_1, GREY, 5)
fan((2631, 2315), 72, 135, S_GREY_2, GREY, 5)
edges(S_GREY_EDGES, GREY, 3)
fan((2666, 2554), 0, 350, S_BROWN_2, BROWN, 10, dots=False, z=3)
fan((2730, 2520), 0, 345, S_BROWN_3, BROWN, 10, dots=False, z=3)
fan((2690, 2625), 0, 348, S_BROWN_7, BROWN, 9, dots=False, z=3)
fan((2600, 2560), 0, 345, S_BROWN_8, BROWN, 8, dots=False, z=3)
fan((2730, 2450), 0, 342, S_BROWN_9, BROWN, 8, dots=False, z=3)
fan((2640, 2560), 170, 195, S_BROWN_4, BROWN, 9, dots=False, z=3)
fan((2690, 2560), 190, 350, S_BROWN_5, BROWN, 3.5, z=3)
fan((2765, 2545), -60, 20, S_BROWN_6, BROWN, 3.5, z=3)
fan(hub_s_brown, 8, 113, S_BROWN_1, BROWN, 3.5, z=3)
edges(S_BROWN_EDGES, BROWN, 3, z=3)
fan((2645, 2545), 60, 125, S_GREY_3, GREY, 3.5, z=4)
fan((2645, 2545), 235, 295, S_GREY_4, GREY, 3.5, z=4)
fan((2666, 2554), 0, 345, S_DOTS_BROWN, GREY, 1, lines=False, dot_color='#5a6570', dot_px=9, z=5)
fan((2720, 2600), 0, 345, S_DOTS_BROWN_2, GREY, 1, lines=False, dot_color='#5a6570', dot_px=9, z=5)
fan(hub_s_red, 90, 205, S_RED_1, RED, 3.5, z=4)
fan(hub_s_red, 150, 205, S_RED_2, RED, 11, dots=False, z=4)
fan(hub_s_red, 255, 285, S_RED_3, RED, 5, dots=False, z=4)
fan(hub_s_green, 250, 262, S_RED_4, RED, 3.5, dots=False, z=4)
fan(hub_s_green, 18, 52, S_RED_5, RED, 3.5, dots=False, z=4)
fan(hub_s_brown, 198, 222, S_RED_6, RED, 3.5, dots=False, z=4)
fan(hub_s_brown, 154, 180, S_RED_7, RED, 3.5, dots=False, z=4)
edges(S_RED_EDGES, RED, 3.5, z=4)
fan(hub_s_green, 192, 258, S_GREEN_1, GREEN, 4, z=5)
fan(hub_s_green, 190, 258, S_GREEN_2, GREEN, 5, dots=False, z=5)
fan(hub_s_green, 155, 187, S_GREEN_3, GREEN, 4, z=5)
fan(hub_s_green, -25, 5, S_GREEN_4, GREEN, 5, z=5)
fan(hub_s_green, 18, 68, S_GREEN_5, GREEN, 3.5, dots=False, z=5)
fan(hub_s_brown, 196, 218, S_GREEN_6, GREEN, 3.5, dots=False, z=5)
fan(hub_s_green, -60, -28, S_GREEN_7, GREEN, 3.5, dots=False, z=5)
edges(S_GREEN_EDGES, GREEN, 3, dot_px=1, z=5)
fan((2401, 2277), 104, 132, S_BLACK_1, BLACK, 3.5, dot_color='#333333', z=6)
edges(S_BLACK_EDGES, BLACK, 3.5, z=6)

# pie
for grow, a in [(22, .05), (12, .08), (4, .1)]:
    page.add_patch(Ellipse((577, 3572), 494 + grow, 494 + grow, fc='#808080', alpha=a, ec='none', zorder=2))
ax_pie = sub_axes(330, 3313, 824, 3807)
wedges, _ = ax_pie.pie(PIE_VALUES, startangle=90, counterclock=False, radius=1, colors=['none'] * 5)
ax_pie.set_xlim(-1, 1)
ax_pie.set_ylim(-1, 1)
ax_pie.set_autoscale_on(False)
for w, top, bottom in zip(wedges, PIE_TOPS, PIE_BOTTOMS):
    gradient_fill(ax_pie, w, (-1, 1, -1, 1), top, bottom)
ax_pie.text(.155, -.325, "84%", color='white', weight='bold', fontsize=64 * .72, ha='center', va='center', zorder=10)

for y, name, top, bottom in zip([3348, 3451, 3555, 3659, 3764], PIE_NAMES, PIE_TOPS, PIE_BOTTOMS):
    sw = Rectangle((909, y - 15), 30, 30, fc='none', ec='none', zorder=3)
    page.add_patch(sw)
    gradient_fill(page, sw, (909, 939, y + 15, y - 15), top, bottom)
    txt(953, y + 1, name, 50, ha='left')

# ring of neighbours
ring_c = (1726, 3580)
ring_r = 243
for i, color in enumerate(RING_LINKS):
    page.add_patch(Arc(ring_c, ring_r * 2, ring_r * 2, theta1=-RING_ANGLES[i], theta2=-RING_ANGLES[i] + 60, color=color, lw=16,
                       zorder=3))


def bubble(x, y, r, name, px, top, bottom):
    for grow, a in [(14, .04), (8, .06), (3, .08)]:
        page.add_patch(Ellipse((x, y + 12), (r + grow) * 2, (r + grow) * 2, fc='#707070', ec='none', alpha=a, zorder=4))
    c = Circle((x, y), r, fc=top, ec='none', zorder=5)
    page.add_patch(c)
    gradient_fill(page, c, (x - r, x + r, y + r, y - r), top, bottom)
    txt(x, y, name, px, color='white', weight='bold', zorder=7)


for i, name in enumerate(RING_NAMES):
    t = np.radians(RING_ANGLES[i])
    bubble(ring_c[0] + ring_r * np.cos(t) * .995, ring_c[1] - ring_r * np.sin(t), 83, name,
           36 if name.startswith('RUNX') else 46, RING_TOPS[i], RING_BOTTOMS[i])
bubble(1726, 3579, 110, "PVT1", 52, '#9fc543', '#768f35')

# PVT1 sub-network
hub_p = (2690, 3573)
ang = np.radians(np.array(P_PALE_ANGLES))
for a, ln, color in zip(ang, P_PALE_LENGTHS, P_PALE_COLORS):
    page.plot([hub_p[0], hub_p[0] + ln * np.cos(a)], [hub_p[1], hub_p[1] - ln * np.sin(a)], color=color, lw=3, zorder=3)
ang = np.radians(np.array(P_CYAN_ANGLES))
for a, ln in zip(ang, P_CYAN_LENGTHS):
    page.plot([hub_p[0], hub_p[0] + ln * np.cos(a)], [hub_p[1], hub_p[1] - ln * np.sin(a)], color='#a8e8ee', lw=2.4, zorder=3)
px, py = [], []
for values, offset, color, width, alpha in [(P_LENGTHS, 0, '#ff5a46', 3.4, .6), (P_MID, 1.1, '#ff3a20', 4.2, .75),
                                            (P_INNER, 2.5, '#ff2a10', 4.6, .85)]:
    segs = []
    step = 360 / len(values)
    for i, ln in enumerate(values):
        a = np.radians(i * step + offset)
        end = (hub_p[0] + ln * np.cos(a), hub_p[1] - ln * np.sin(a))
        segs.append([hub_p, end])
        px.append(end[0])
        py.append(end[1])
    page.add_collection(LineCollection(segs, colors=color, linewidths=width, alpha=alpha, zorder=4))
page.scatter(px, py, s=16, c='#707070', linewidths=0, zorder=6)

fig.savefig("out.png", dpi=100)
